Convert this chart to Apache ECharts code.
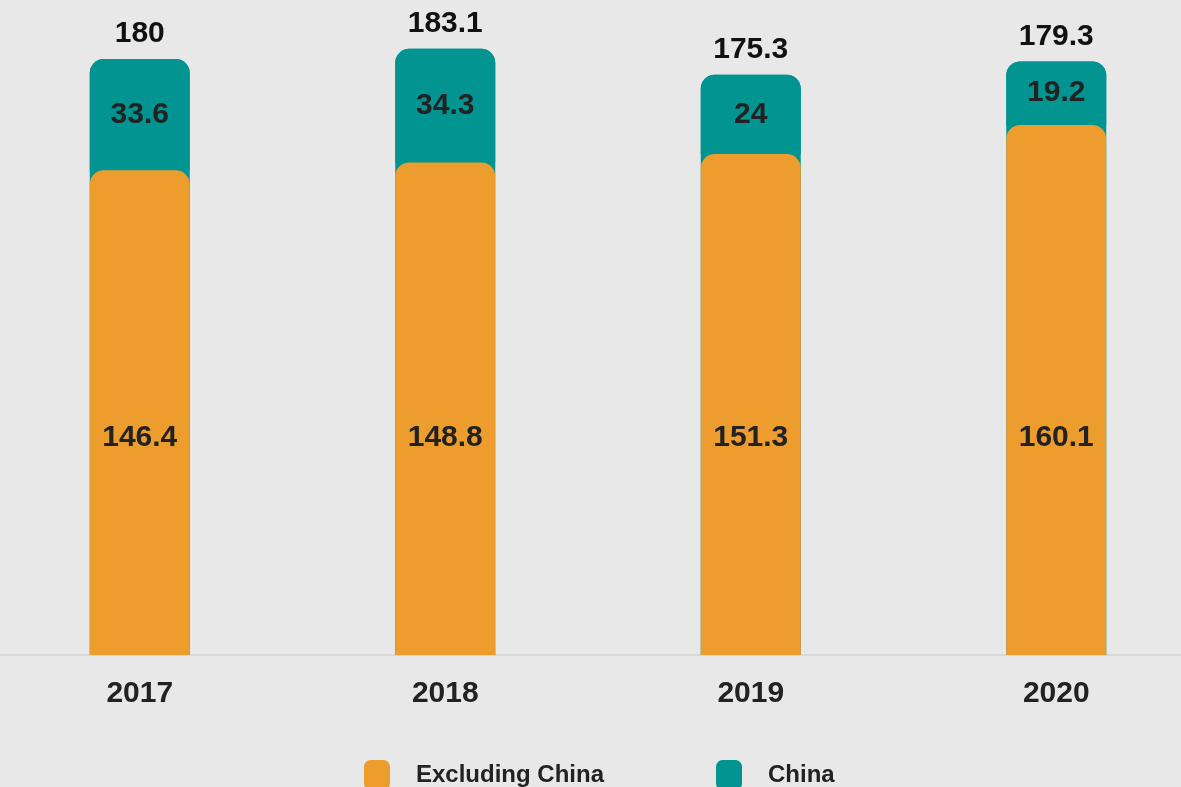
<!DOCTYPE html>
<html>
<head>
<meta charset="utf-8">
<script src="https://cdn.jsdelivr.net/npm/echarts@6/dist/echarts.min.js"></script>
<style>
  html, body { margin: 0; padding: 0; background: #e8e8e8; }
  #chart { width: 1181px; height: 787px; }
</style>
</head>
<body>
<div id="chart"></div>
<script>
// Yearly values (Excluding China stacked under China)
const years = ['2017', '2018', '2019', '2020'];
const excludingChina = [146.4, 148.8, 151.3, 160.1];
const china = [33.6, 34.3, 24, 19.2];
const totals = [180, 183.1, 175.3, 179.3];

const ORANGE = '#ed9d2d';
const TEAL = '#019491';
const FONT = 'Liberation Sans, Arial, Helvetica, sans-serif';
const RADIUS = [14, 14, 0, 0];

const chart = echarts.init(document.getElementById('chart'), null, { renderer: 'canvas' });

chart.setOption({
  backgroundColor: '#e8e8e8',
  animation: false,
  grid: {
    left: -13, width: 1222, top: 26, bottom: 132,
    containLabel: false, outerBoundsMode: 'none'
  },
  legend: {
    data: [
      { name: 'Excluding China', itemStyle: { color: ORANGE } },
      { name: 'China', itemStyle: { color: TEAL } }
    ],
    left: 359,
    top: 755,
    icon: 'roundRect',
    itemWidth: 26,
    itemHeight: 30,
    itemGap: 112,
    textStyle: {
      fontFamily: FONT, fontSize: 24, fontWeight: 'bold', color: '#222',
      padding: [0, 0, 0, 21]
    }
  },
  xAxis: {
    type: 'category',
    data: years,
    axisLine: { show: true, lineStyle: { color: '#d8d8d8', width: 2 } },
    axisTick: { show: false },
    axisLabel: {
      margin: 24, color: '#222', fontFamily: FONT, fontSize: 30, fontWeight: 'bold'
    }
  },
  yAxis: {
    type: 'value',
    min: 0,
    max: 190,
    show: false,
    splitLine: { show: false }
  },
  series: [
    {
      // full-height teal backing, carries the total above each column
      name: 'Total',
      type: 'bar',
      data: totals,
      barWidth: 100,
      barGap: '-100%',
      z: 1,
      silent: true,
      itemStyle: { color: TEAL, borderRadius: RADIUS },
      label: {
        show: true,
        position: 'top',
        distance: 10,
        color: '#111',
        fontFamily: FONT,
        fontSize: 30,
        fontWeight: 'bold'
      }
    },
    {
      name: 'Excluding China',
      type: 'bar',
      stack: 'share',
      data: excludingChina,
      barWidth: 100,
      z: 3,
      itemStyle: { color: ORANGE, borderRadius: RADIUS },
      label: {
        show: true,
        position: 'insideBottom',
        distance: 202,
        color: '#222',
        fontFamily: FONT,
        fontSize: 30,
        fontWeight: 'bold'
      }
    },
    {
      name: 'China',
      type: 'bar',
      stack: 'share',
      data: china,
      barWidth: 100,
      z: 2,
      itemStyle: { color: TEAL, borderRadius: RADIUS },
      label: {
        show: true,
        position: 'inside',
        color: '#222',
        fontFamily: FONT,
        fontSize: 30,
        fontWeight: 'bold'
      }
    }
  ]
});
</script>
</body>
</html>
